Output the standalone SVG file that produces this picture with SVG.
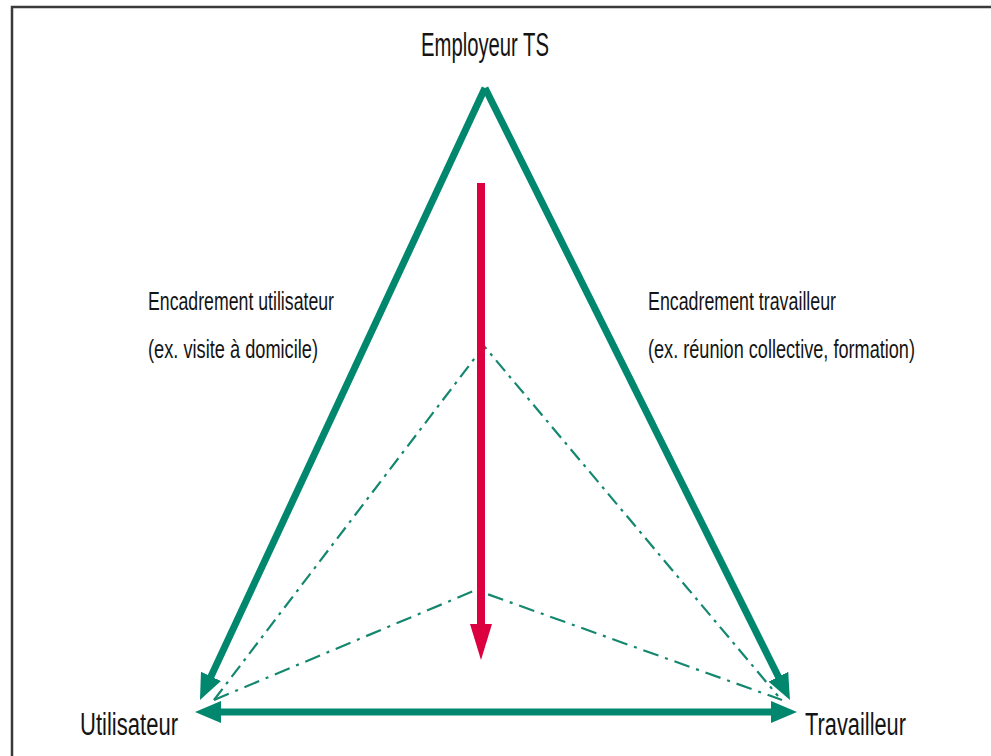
<svg xmlns="http://www.w3.org/2000/svg" width="991" height="756" viewBox="0 0 991 756">
<style>
.frame{fill:none;stroke:#3a3a3a;stroke-width:2.5}
.edge{stroke:#00876e;stroke-width:7;fill:none}
.dd{stroke:#14876f;stroke-width:2.2;fill:none;stroke-dasharray:14 6 3 6}
.dd2{stroke:#14876f;stroke-width:2.2;fill:none;stroke-dasharray:16 7 3 7}
.lbl{font-family:"Liberation Sans","DejaVu Sans",sans-serif;fill:#141414}
</style>
<defs>
<marker id="ag" viewBox="0 0 26 22" refX="16" refY="11" markerWidth="26" markerHeight="22" orient="auto-start-reverse" markerUnits="userSpaceOnUse">
<path d="M0,0 L26,11 L0,22 Z" fill="#00876e"/>
</marker>
<marker id="ar" viewBox="0 0 36 22" refX="22" refY="11" markerWidth="36" markerHeight="22" orient="auto" markerUnits="userSpaceOnUse">
<path d="M0,0 L36,11 L0,22 Z" fill="#dc0041"/>
</marker>
</defs>
<path class="frame" d="M12,756 L12,7 L991,7"/>
<g id="connectors">
<line class="edge" x1="485" y1="88" x2="204.2" y2="690.9" marker-end="url(#ag)"/>
<line class="edge" x1="485" y1="88" x2="785.5" y2="691" marker-end="url(#ag)"/>
<line class="edge" x1="205" y1="712" x2="787" y2="712" marker-start="url(#ag)" marker-end="url(#ag)"/>
<polyline class="dd" points="214,700 484,346 778,696"/>
<polyline class="dd2" points="214,700 476,590 782,700"/>
<line x1="481" y1="183" x2="481" y2="646" stroke="#dc0041" stroke-width="8" marker-end="url(#ar)"/>
</g>
<g id="employeur"><text class="lbl" x="485" y="56" font-size="33" text-anchor="middle" textLength="128" lengthAdjust="spacingAndGlyphs">Employeur TS</text></g>
<g id="utilisateur"><text class="lbl" x="80" y="735" font-size="31" textLength="98" lengthAdjust="spacingAndGlyphs">Utilisateur</text></g>
<g id="travailleur"><text class="lbl" x="805" y="735" font-size="31" textLength="101" lengthAdjust="spacingAndGlyphs">Travailleur</text></g>
<g id="enc-util">
<text class="lbl" x="148" y="310" font-size="26" textLength="186" lengthAdjust="spacingAndGlyphs">Encadrement utilisateur</text>
<text class="lbl" x="148" y="358" font-size="26" textLength="170" lengthAdjust="spacingAndGlyphs">(ex. visite à domicile)</text>
</g>
<g id="enc-trav">
<text class="lbl" transform="translate(648,310) scale(0.7,1)" x="0" y="0" font-size="26" textLength="268.6" lengthAdjust="spacingAndGlyphs">Encadrement travailleur</text>
<text class="lbl" transform="translate(648,358) scale(0.7,1)" x="0" y="0" font-size="26" textLength="381.4" lengthAdjust="spacingAndGlyphs">(ex. réunion collective, formation)</text>
</g>
</svg>
